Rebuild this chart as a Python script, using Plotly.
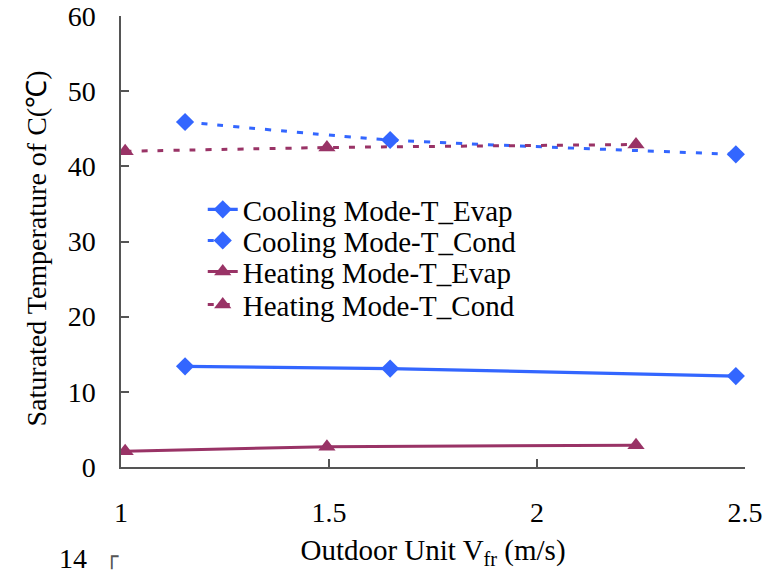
import plotly.graph_objects as go

cool_x = [1.154, 1.647, 2.478]
cool_evap = [13.4, 13.1, 12.1]
cool_cond = [45.9, 43.5, 41.6]

heat_x = [1.01, 1.495, 2.238]
heat_evap = [2.1, 2.7, 2.9]
heat_cond = [42.0, 42.5, 42.9]

x_ticks = [1, 1.5, 2, 2.5]
x_tick_text = ["1", "1.5", "2", "2.5"]
y_ticks = [0, 10, 20, 30, 40, 50, 60]

BLUE = "#3366FF"
MAROON = "#993366"
FONT = "Liberation Serif"
FS = 28
FL = 29

fig = go.Figure()
fig.add_trace(go.Scatter(x=cool_x, y=cool_evap, name="Cooling Mode-T_Evap", legend="legend",
                         mode="lines+markers", line=dict(color=BLUE, width=3.2, shape="spline", smoothing=0.5),
                         marker=dict(symbol="diamond", size=14, color=BLUE)))
fig.add_trace(go.Scatter(x=cool_x, y=cool_cond, name="Cooling Mode-T_Cond", legend="legend2",
                         mode="lines+markers", line=dict(color=BLUE, width=3, dash="6px,10px", shape="spline", smoothing=0.5),
                         marker=dict(symbol="diamond", size=14, color=BLUE)))
fig.add_trace(go.Scatter(x=heat_x, y=heat_evap, name="Heating Mode-T_Evap", legend="legend3",
                         mode="lines+markers", line=dict(color=MAROON, width=3, shape="spline", smoothing=0.5),
                         marker=dict(symbol="triangle-up", size=15, color=MAROON)))
fig.add_trace(go.Scatter(x=heat_x, y=heat_cond, name="Heating Mode-T_Cond", legend="legend4",
                         mode="lines+markers", line=dict(color=MAROON, width=3, dash="6px,10px", shape="spline", smoothing=0.5),
                         marker=dict(symbol="triangle-up", size=15, color=MAROON)))

def leg(yp):
    return dict(x=0.131, y=yp, xanchor="left", yanchor="middle",
                bgcolor="rgba(0,0,0,0)", font=dict(size=FL, family=FONT), itemwidth=30)

fig.update_layout(
    width=771, height=562,
    margin=dict(l=113, r=34, t=8, b=103, autoexpand=False),
    paper_bgcolor="white", plot_bgcolor="white",
    font=dict(family=FONT, size=FS, color="black"),
    showlegend=True,
    legend=leg(0.571), legend2=leg(0.502), legend3=leg(0.433), legend4=leg(0.360),
    xaxis=dict(range=[1, 2.5], tickvals=x_ticks, ticktext=x_tick_text, automargin=False,
               showgrid=False, zeroline=False, showline=True, linecolor="#555555", linewidth=1.5,
               ticks="inside", ticklen=8, tickcolor="#555555", tickwidth=1.5,
               ticklabelstandoff=20, ticklabeloverflow="allow",
               tickfont=dict(size=FS, family=FONT),
               title=dict(text="Outdoor Unit V<sub>fr</sub> (m/s)", standoff=14, font=dict(size=FL, family=FONT))),
    yaxis=dict(range=[0, 60], tickvals=y_ticks, automargin=False,
               showgrid=False, zeroline=False, showline=True, linecolor="#555555", linewidth=1.5,
               ticks="inside", ticklen=8, tickcolor="#555555", tickwidth=1.5,
               ticklabelstandoff=18, ticklabeloverflow="allow",
               tickfont=dict(size=FS, family=FONT)),
)

fig.add_annotation(text="Saturated Temperature of C(℃)", textangle=-90, xref="paper", yref="paper",
                   x=-0.135, y=0.484, xanchor="center", yanchor="middle", showarrow=False,
                   font=dict(size=28, family=FONT))
fig.add_annotation(text="14", xref="paper", yref="paper", x=-0.1026, y=-0.2029,
                   showarrow=False, font=dict(size=FS, family=FONT), xanchor="left", yanchor="middle")
fig.add_annotation(text="┌", xref="paper", yref="paper", x=-0.0144, y=-0.1996,
                   showarrow=False, font=dict(size=22, family="DejaVu Sans", color="#555"), xanchor="center", yanchor="middle")

fig.write_html("out.html")
